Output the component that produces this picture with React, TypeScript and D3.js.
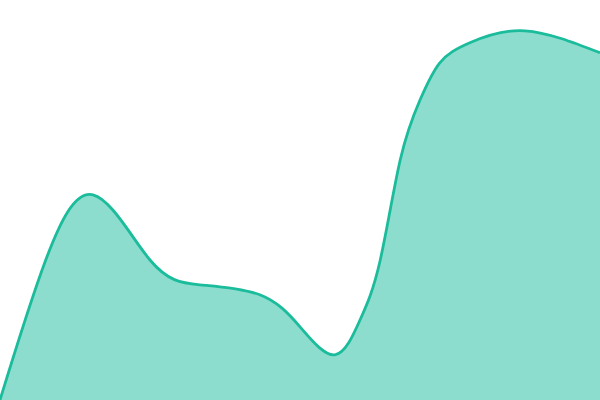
import React, { useEffect, useRef } from "react";
import * as d3 from "d3";

// sampled series (x in 0..100, value in 0..100)
const days = [0, 7.5, 15.5, 25, 33.3, 43.3, 50, 55.8, 60, 63.3, 66.7, 70, 73.3, 78.3, 87.5, 100];
const values = [0, 34.5, 51.3, 35, 28.8, 26.3, 18.3, 11.3, 20, 34.5, 60, 75, 84.3, 89.3, 92.3, 86.8];

const App: React.FC = () => {
  const ref = useRef<SVGSVGElement>(null);

  useEffect(() => {
    const width = 600,
      height = 400;
    const data = days.map((d, i) => ({ x: d, y: values[i] }));

    const svg = d3.select(ref.current);
    svg.selectAll("*").remove();

    const x = d3.scaleLinear().domain([0, 100]).range([0, width]);
    const y = d3.scaleLinear().domain([0, 100]).range([height, 0]);

    const curve = d3.curveNatural;

    const area = d3
      .area<{ x: number; y: number }>()
      .x((d) => x(d.x))
      .y0(height)
      .y1((d) => y(d.y))
      .curve(curve);

    const line = d3
      .line<{ x: number; y: number }>()
      .x((d) => x(d.x))
      .y((d) => y(d.y))
      .curve(curve);

    svg
      .append("path")
      .datum(data)
      .attr("d", area)
      .attr("fill", "#1abc9c")
      .attr("fill-opacity", 0.5);

    svg
      .append("path")
      .datum(data)
      .attr("d", line)
      .attr("fill", "none")
      .attr("stroke", "#1abc9c")
      .attr("stroke-width", 2.8);
  }, []);

  return (
    <svg
      ref={ref}
      width={600}
      height={400}
      style={{ position: "absolute", left: 0, top: 0, background: "#fff" }}
    />
  );
};

export default App;
